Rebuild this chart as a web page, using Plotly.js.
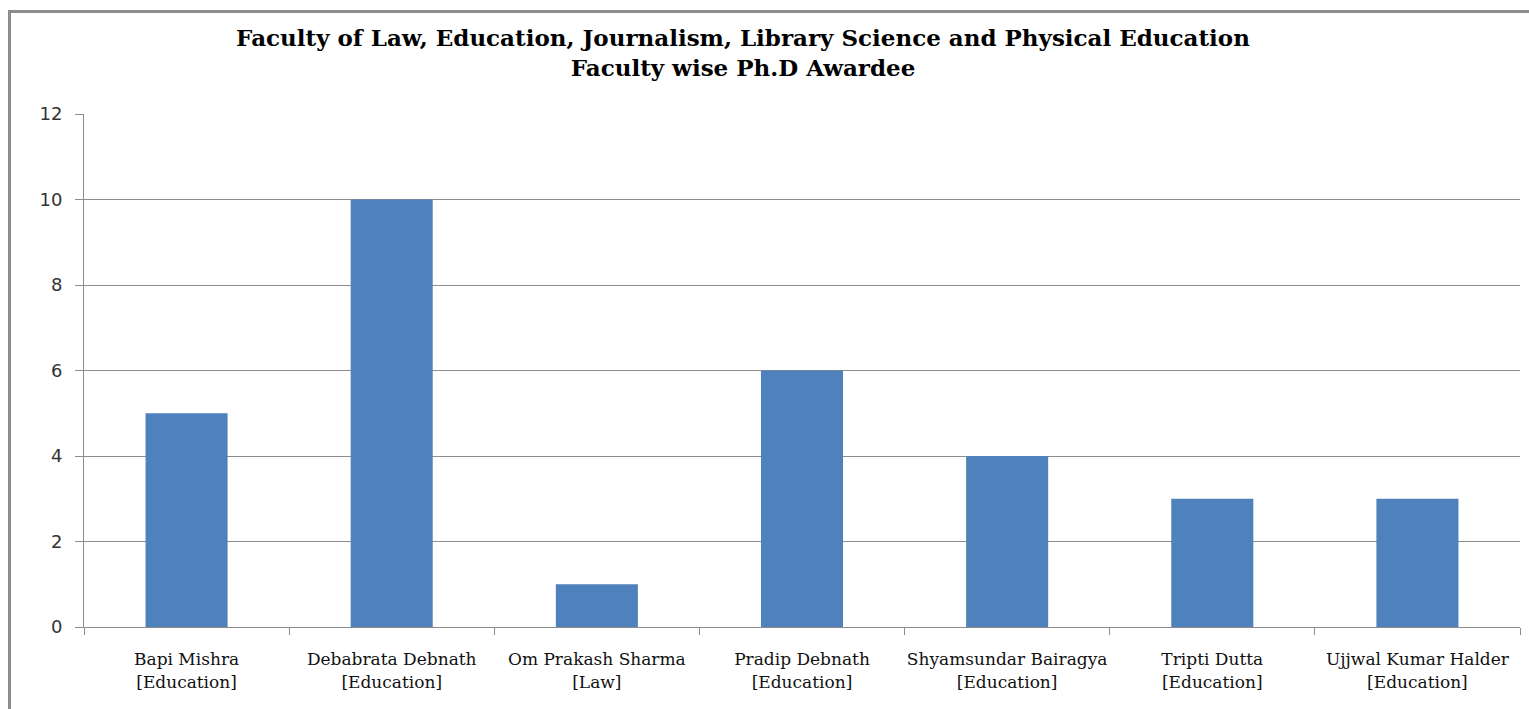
<!DOCTYPE html>
<html>
<head>
<meta charset="utf-8">
<script src="https://cdn.plot.ly/plotly-3.0.1.min.js"></script>
<style>
  html, body { margin: 0; padding: 0; background: #fff; }
  #frame { position: absolute; left: 8px; top: 10px; width: 1521px; height: 699px;
           border-left: 3px solid #8c8c8c; border-top: 3px solid #8c8c8c; box-sizing: border-box; }
  #chart { position: absolute; left: 0; top: 0; width: 1529px; height: 709px; }
</style>
</head>
<body>
<div id="frame"></div>
<div id="chart"></div>
<script>
const categories = [
  "Bapi Mishra<br>[Education]",
  "Debabrata Debnath<br>[Education]",
  "Om Prakash Sharma<br>[Law]",
  "Pradip Debnath<br>[Education]",
  "Shyamsundar Bairagya<br>[Education]",
  "Tripti Dutta<br>[Education]",
  "Ujjwal Kumar Halder<br>[Education]"
];
const awardees = [5, 10, 1, 6, 4, 3, 3];
const yTicks = [0, 2, 4, 6, 8, 10, 12];
const titleText = "<b>Faculty of Law, Education, Journalism, Library Science and Physical Education<br>Faculty wise Ph.D Awardee</b>";

const trace = {
  type: "bar",
  x: categories,
  y: awardees,
  marker: { color: "#4f81bd", line: { width: 0 } },
  hoverinfo: "x+y"
};

const layout = {
  width: 1529,
  height: 709,
  paper_bgcolor: "rgba(0,0,0,0)",
  plot_bgcolor: "#ffffff",
  margin: { l: 84, r: 9, t: 114, b: 82 },
  bargap: 0.6,
  showlegend: false,
  title: {
    text: titleText,
    font: { family: "DejaVu Serif, serif", size: 23, color: "#000" },
    x: 743 / 1529,
    xref: "container",
    xanchor: "center",
    y: 1 - 46 / 709,
    yref: "container",
    yanchor: "middle"
  },
  xaxis: {
    type: "category",
    showgrid: false,
    showline: true,
    linecolor: "#8c8c8c",
    linewidth: 1,
    ticks: "outside",
    tickson: "boundaries",
    ticklen: 7,
    tickcolor: "#8c8c8c",
    tickfont: { family: "DejaVu Serif, serif", size: 17, color: "#111" },
    tickangle: 0,
    ticklabelstandoff: 17,
    automargin: false
  },
  yaxis: {
    range: [0, 12],
    tickvals: yTicks,
    ticktext: yTicks.map(String),
    showgrid: true,
    gridcolor: "#8c8c8c",
    gridwidth: 1,
    zeroline: false,
    showline: true,
    linecolor: "#8c8c8c",
    linewidth: 1,
    ticks: "outside",
    ticklen: 8,
    tickcolor: "#8c8c8c",
    tickfont: { family: "DejaVu Sans, sans-serif", size: 18, color: "#333" },
    ticklabelstandoff: 9,
    automargin: false
  }
};

Plotly.newPlot("chart", [trace], layout, { displayModeBar: false, staticPlot: true });
</script>
</body>
</html>
